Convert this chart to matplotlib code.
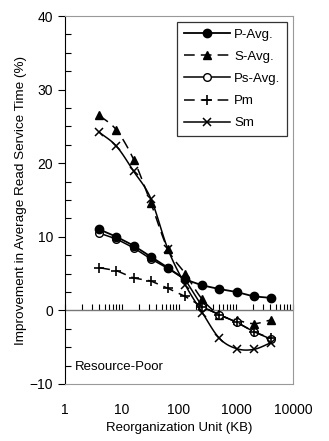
import numpy as np
import matplotlib
matplotlib.use('Agg')
import matplotlib.pyplot as plt
from matplotlib.ticker import LogLocator, NullFormatter, FixedLocator, FuncFormatter

plt.rcParams['font.family'] = ['Liberation Sans', 'DejaVu Sans']

# --- data ---
unit_kb = [4, 8, 16, 32, 64, 128, 256, 512, 1024, 2048, 4096]
p_avg = [11.0, 10.0, 8.8, 7.3, 5.8, 4.2, 3.4, 2.9, 2.5, 1.9, 1.7]
s_avg = [26.5, 24.5, 20.5, 14.6, 8.3, 5.0, 1.5, -0.6, -1.3, -1.8, -1.3]
ps_avg = [10.5, 9.7, 8.5, 7.0, 5.7, 4.2, 0.5, -0.6, -1.6, -2.9, -3.9]
pm = [5.8, 5.4, 4.4, 4.0, 3.0, 1.9, 0.5, -0.6, -1.6, -2.9, -3.8]
sm = [24.2, 22.3, 18.9, 15.2, 8.3, 3.5, -0.3, -3.8, -5.2, -5.3, -4.4]

x_ticks = [1, 10, 100, 1000, 10000]
y_ticks = [-10, 0, 10, 20, 30, 40]

SUB = 12


def smooth(xs, ys, n=SUB):
    # catmull-rom through the points, done in log-x
    lx = np.log10(np.asarray(xs, float))
    y = np.asarray(ys, float)
    P = np.column_stack([lx, y])
    P = np.vstack([2 * P[0] - P[1], P, 2 * P[-1] - P[-2]])
    out = []
    for i in range(1, len(P) - 2):
        p0, p1, p2, p3 = P[i - 1], P[i], P[i + 1], P[i + 2]
        for t in np.linspace(0, 1, n, endpoint=False):
            t2, t3 = t * t, t * t * t
            pt = 0.5 * ((2 * p1) + (-p0 + p2) * t + (2 * p0 - 5 * p1 + 4 * p2 - p3) * t2
                        + (-p0 + 3 * p1 - 3 * p2 + p3) * t3)
            out.append(pt)
    out.append(P[-2])
    out = np.array(out)
    return 10 ** out[:, 0], out[:, 1]


fig = plt.figure(figsize=(3.29, 4.41), dpi=100)
ax = fig.add_axes([0.1976, 0.1293, 0.6930, 0.8344])

marks = list(range(0, (len(unit_kb) - 1) * SUB + 1, SUB))
dash = (0, (7, 4))

ax.plot(unit_kb, p_avg, color='black', lw=1.3, marker='o', ms=6, mfc='black', label='P-Avg.', zorder=5)
sx, sy = smooth(unit_kb, s_avg)
ax.plot(sx, sy, color='black', lw=1.1, ls=dash, marker='^', ms=6, mfc='black', markevery=marks, label='S-Avg.', zorder=4)
ax.plot(unit_kb, ps_avg, color='black', lw=1.1, marker='o', ms=5.5, mfc='white', label='Ps-Avg.', zorder=4)
ax.plot(unit_kb, pm, color='black', lw=1.1, ls=dash, marker='+', ms=7, mew=1.2, label='Pm', zorder=4)
sx, sy = smooth(unit_kb, sm)
ax.plot(sx, sy, color='black', lw=1.1, marker='x', ms=6, mew=1.1, markevery=marks, label='Sm', zorder=4)

ax.set_xscale('log')
ax.set_xlim(1, 10000)
ax.set_ylim(-10, 40)

ax.axhline(0, color='#777777', lw=1.0, zorder=2)

ax.xaxis.set_major_locator(FixedLocator(x_ticks))
ax.xaxis.set_major_formatter(FuncFormatter(lambda v, p: '%d' % v))
ax.xaxis.set_minor_locator(LogLocator(base=10, subs=np.arange(2, 10)))
ax.xaxis.set_minor_formatter(NullFormatter())
ax.tick_params(axis='x', which='both', length=0, labelsize=10, pad=14)

# tick marks along the zero line
zx = ax.secondary_xaxis(0.2)
zx.set_xscale('log')
zx.xaxis.set_major_locator(FixedLocator(x_ticks))
zx.xaxis.set_minor_locator(LogLocator(base=10, subs=np.arange(2, 10)))
zx.xaxis.set_major_formatter(NullFormatter())
zx.xaxis.set_minor_formatter(NullFormatter())
zx.tick_params(which='both', direction='in', length=4, width=0.8, color='black')
zx.spines['bottom'].set_visible(False)

ax.set_yticks(y_ticks)
ax.set_yticks(np.arange(-10, 40.1, 2.5), minor=True)
ax.tick_params(axis='y', which='major', direction='out', length=5, width=0.8, labelsize=10)
ax.tick_params(axis='y', which='minor', direction='in', length=4, width=0.8)

for s in ['top', 'right', 'bottom']:
    ax.spines[s].set_color('#999999')
ax.spines['left'].set_color('black')

ax.set_xlabel('Reorganization Unit (KB)', fontsize=9.5, labelpad=3)
ax.set_ylabel('Improvement in Average Read Service Time (%)', fontsize=9.7, labelpad=2)

ax.text(0.045, 0.047, 'Resource-Poor', transform=ax.transAxes, fontsize=9.5, va='center')

leg = ax.legend(loc='upper right', fontsize=9.5, handlelength=3.5, labelspacing=0.75,
                borderaxespad=0.45, frameon=True, fancybox=False, handletextpad=0.3,
                borderpad=0.5)
leg.get_frame().set_edgecolor('black')
leg.get_frame().set_linewidth(0.9)

fig.savefig('out.png', dpi=100)
